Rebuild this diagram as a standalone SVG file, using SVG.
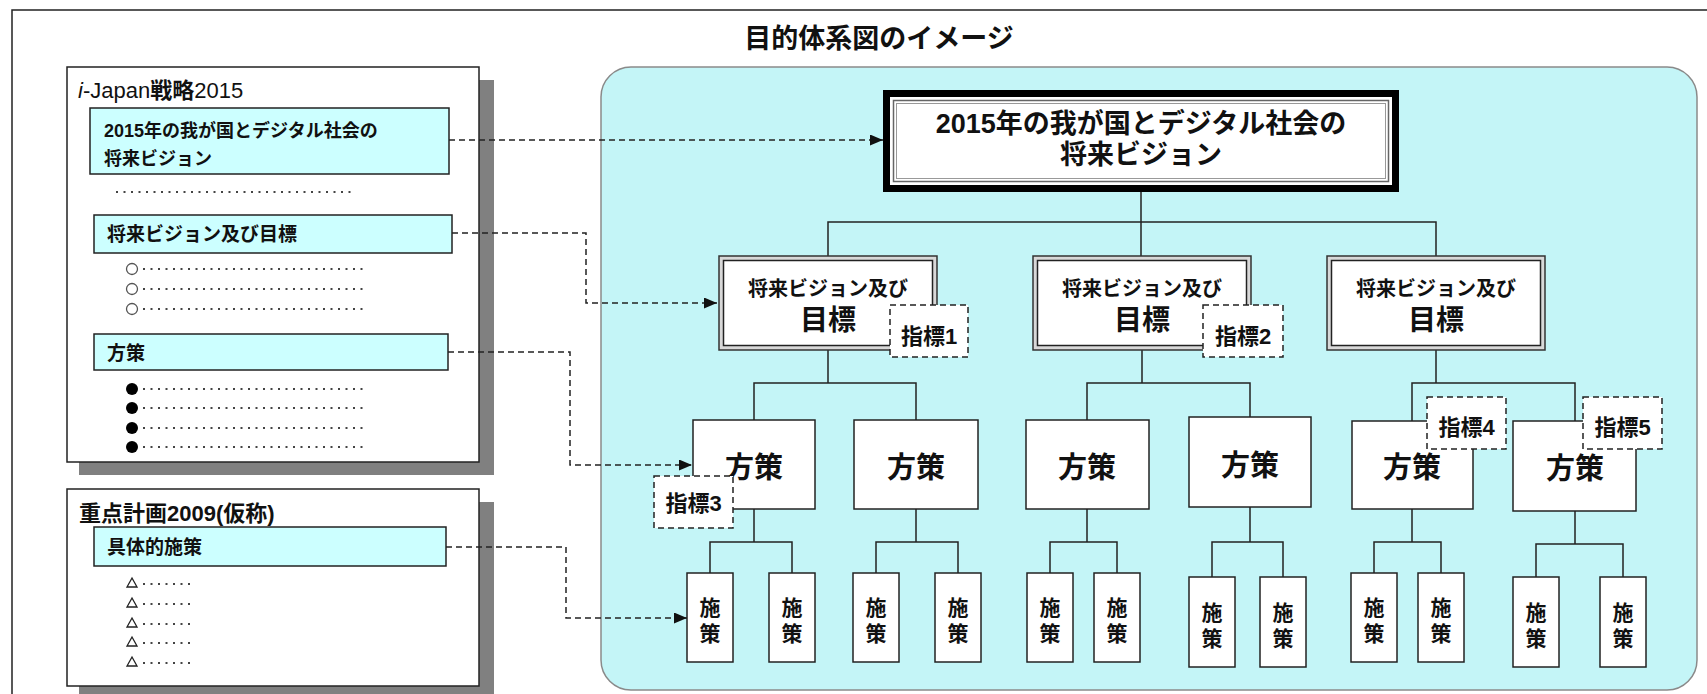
<svg xmlns="http://www.w3.org/2000/svg" width="1707" height="694" viewBox="0 0 1707 694">
<defs>
<marker id="ah" viewBox="0 0 13 11" refX="13" refY="5.5" markerWidth="13" markerHeight="11" markerUnits="userSpaceOnUse" orient="auto"><path d="M0,0 L13,5.5 L0,11 z" fill="#111"/></marker>
</defs>
<style>
text{font-family:"Liberation Sans","Noto Sans CJK JP",sans-serif;font-weight:bold;fill:#111}
.frame{fill:none;stroke:#222;stroke-width:1.5}
.shadow{fill:#808080}
.doc{fill:#fff;stroke:#222;stroke-width:1.5}
.hdr{fill:#ccffff;stroke:#222;stroke-width:1.5}
.dots{stroke:#444;stroke-width:2;stroke-dasharray:2 5.5;fill:none}
.oc{fill:#fff;stroke:#555;stroke-width:1.3}
.fc{fill:#000}
.tri{fill:#fff;stroke:#222;stroke-width:1.3}
.panel{fill:#c4f5f7;stroke:#8a8a8a;stroke-width:1.5}
.box{fill:#fff;stroke:#222;stroke-width:1.5}
.dbl{fill:#d8d8d8;stroke:#333;stroke-width:1.5}
.ind{fill:#fff;stroke:#222;stroke-width:1.5;stroke-dasharray:6 4}
.link{fill:none;stroke:#222;stroke-width:1.5}
.dash{fill:none;stroke:#222;stroke-width:1.5;stroke-dasharray:6 4}
.c{text-anchor:middle}
.l2a{font-size:20px}
.l2b{font-size:28px}
.l3{font-size:29px}
.l4{font-size:21px}
.ix{font-size:22px}
</style>

<path class="frame" d="M12,694 V10 H1707"/>

<g id="ijapan">
<rect class="shadow" x="79" y="80" width="415" height="395"/>
<rect class="doc" x="67" y="67" width="412" height="395"/>
<text x="78" y="98" font-size="22"><tspan font-style="italic" font-weight="normal">i</tspan><tspan font-weight="normal">-Japan</tspan>戦略<tspan font-weight="normal">2015</tspan></text>
<rect class="hdr" x="90" y="108" width="359" height="66"/>
<text x="104" y="137" font-size="18">2015年の我が国とデジタル社会の<tspan x="104" y="165">将来ビジョン</tspan></text>
<line class="dots" x1="116" y1="192" x2="352" y2="192"/>
<rect class="hdr" x="94" y="215" width="358" height="38"/>
<text x="107" y="241" font-size="19">将来ビジョン及び目標</text>
<circle class="oc" cx="132" cy="269" r="5.5"/><line class="dots" x1="143" y1="269" x2="364" y2="269"/>
<circle class="oc" cx="132" cy="289" r="5.5"/><line class="dots" x1="143" y1="289" x2="364" y2="289"/>
<circle class="oc" cx="132" cy="309" r="5.5"/><line class="dots" x1="143" y1="309" x2="364" y2="309"/>
<rect class="hdr" x="94" y="334" width="354" height="36"/>
<text x="107" y="360" font-size="19">方策</text>
<circle class="fc" cx="132" cy="389" r="6"/><line class="dots" x1="143" y1="389" x2="364" y2="389"/>
<circle class="fc" cx="132" cy="408" r="6"/><line class="dots" x1="143" y1="408" x2="364" y2="408"/>
<circle class="fc" cx="132" cy="428" r="6"/><line class="dots" x1="143" y1="428" x2="364" y2="428"/>
<circle class="fc" cx="132" cy="447" r="6"/><line class="dots" x1="143" y1="447" x2="364" y2="447"/>
</g>

<g id="juten">
<rect class="shadow" x="79" y="502" width="415" height="200"/>
<rect class="doc" x="67" y="489" width="412" height="197"/>
<text x="79" y="521" font-size="22">重点計画2009(仮称)</text>
<rect class="hdr" x="94" y="527" width="352" height="39"/>
<text x="107" y="554" font-size="19">具体的施策</text>
<path class="tri" d="M132,578 L137,587 L127,587 z"/><line class="dots" x1="143" y1="584" x2="195" y2="584"/>
<path class="tri" d="M132,598 L137,607 L127,607 z"/><line class="dots" x1="143" y1="604" x2="195" y2="604"/>
<path class="tri" d="M132,618 L137,627 L127,627 z"/><line class="dots" x1="143" y1="624" x2="195" y2="624"/>
<path class="tri" d="M132,637 L137,646 L127,646 z"/><line class="dots" x1="143" y1="643" x2="195" y2="643"/>
<path class="tri" d="M132,657 L137,666 L127,666 z"/><line class="dots" x1="143" y1="663" x2="195" y2="663"/>
</g>

<text x="879" y="48" font-size="27" class="c">目的体系図のイメージ</text>
<rect class="panel" x="601" y="67" width="1096" height="623" rx="30"/>

<g id="connectors">
<path class="link" d="M1141,192 V256 M828,256 V222 H1436 V256"/>
<path class="link" d="M828,350 V383 M754,420 V383 H916 V420"/>
<path class="link" d="M1142,350 V383 M1087,420 V383 H1250 V417"/>
<path class="link" d="M1436,350 V383 M1412,421 V383 H1575 V421"/>
<path class="link" d="M754,509 V542 M710,573 V542 H792 V573"/>
<path class="link" d="M916,509 V542 M876,573 V542 H958 V573"/>
<path class="link" d="M1087,509 V542 M1050,573 V542 H1117 V573"/>
<path class="link" d="M1250,507 V542 M1212,577 V542 H1283 V577"/>
<path class="link" d="M1412,509 V542 M1374,573 V542 H1441 V573"/>
<path class="link" d="M1575,511 V544 M1536,577 V544 H1623 V577"/>
<path class="dash" d="M449,140 H883" marker-end="url(#ah)"/>
<path class="dash" d="M452,233 H586 V303 H717" marker-end="url(#ah)"/>
<path class="dash" d="M448,352 H570 V465 H692" marker-end="url(#ah)"/>
<path class="dash" d="M446,547 H566 V618 H687" marker-end="url(#ah)"/>
</g>

<g id="vision">
<rect x="886.5" y="93.5" width="509" height="95" fill="#fff" stroke="#000" stroke-width="7"/>
<rect x="893.5" y="100.5" width="495" height="81" fill="none" stroke="#666" stroke-width="1.5"/>
<rect x="896.5" y="103.5" width="489" height="75" fill="none" stroke="#999" stroke-width="1"/>
<text x="1141" y="133" font-size="27" class="c">2015年の我が国とデジタル社会の<tspan x="1141" y="164">将来ビジョン</tspan></text>
</g>

<g id="goal1">
<rect class="dbl" x="719" y="256" width="218" height="94"/>
<rect class="box" x="723.5" y="260.5" width="209" height="85"/>
<text x="828" y="296" class="c l2a">将来ビジョン及び<tspan x="828" y="330" class="l2b">目標</tspan></text>
</g>
<g id="goal2">
<rect class="dbl" x="1033" y="256" width="218" height="94"/>
<rect class="box" x="1037.5" y="260.5" width="209" height="85"/>
<text x="1142" y="296" class="c l2a">将来ビジョン及び<tspan x="1142" y="330" class="l2b">目標</tspan></text>
</g>
<g id="goal3">
<rect class="dbl" x="1327" y="256" width="218" height="94"/>
<rect class="box" x="1331.5" y="260.5" width="209" height="85"/>
<text x="1436" y="296" class="c l2a">将来ビジョン及び<tspan x="1436" y="330" class="l2b">目標</tspan></text>
</g>

<g id="policyA"><rect class="box" x="693" y="420" width="122" height="89"/><text x="754" y="478" class="c l3">方策</text></g>
<g id="policyB"><rect class="box" x="854" y="420" width="124" height="89"/><text x="916" y="478" class="c l3">方策</text></g>
<g id="policyC"><rect class="box" x="1026" y="420" width="123" height="89"/><text x="1087" y="478" class="c l3">方策</text></g>
<g id="policyD"><rect class="box" x="1189" y="417" width="122" height="90"/><text x="1250" y="476" class="c l3">方策</text></g>
<g id="policyE"><rect class="box" x="1352" y="421" width="121" height="88"/><text x="1412" y="478" class="c l3">方策</text></g>
<g id="policyF"><rect class="box" x="1513" y="421" width="123" height="90"/><text x="1575" y="479" class="c l3">方策</text></g>

<g id="m1"><rect class="box" x="687" y="573" width="46" height="89"/><text x="710" y="615" class="c l4">施<tspan x="710" y="641">策</tspan></text></g>
<g id="m2"><rect class="box" x="769" y="573" width="46" height="89"/><text x="792" y="615" class="c l4">施<tspan x="792" y="641">策</tspan></text></g>
<g id="m3"><rect class="box" x="853" y="573" width="46" height="89"/><text x="876" y="615" class="c l4">施<tspan x="876" y="641">策</tspan></text></g>
<g id="m4"><rect class="box" x="935" y="573" width="46" height="89"/><text x="958" y="615" class="c l4">施<tspan x="958" y="641">策</tspan></text></g>
<g id="m5"><rect class="box" x="1027" y="573" width="46" height="89"/><text x="1050" y="615" class="c l4">施<tspan x="1050" y="641">策</tspan></text></g>
<g id="m6"><rect class="box" x="1094" y="573" width="46" height="89"/><text x="1117" y="615" class="c l4">施<tspan x="1117" y="641">策</tspan></text></g>
<g id="m7"><rect class="box" x="1189" y="577" width="46" height="90"/><text x="1212" y="620" class="c l4">施<tspan x="1212" y="646">策</tspan></text></g>
<g id="m8"><rect class="box" x="1260" y="577" width="46" height="90"/><text x="1283" y="620" class="c l4">施<tspan x="1283" y="646">策</tspan></text></g>
<g id="m9"><rect class="box" x="1351" y="573" width="46" height="89"/><text x="1374" y="615" class="c l4">施<tspan x="1374" y="641">策</tspan></text></g>
<g id="m10"><rect class="box" x="1418" y="573" width="46" height="89"/><text x="1441" y="615" class="c l4">施<tspan x="1441" y="641">策</tspan></text></g>
<g id="m11"><rect class="box" x="1513" y="577" width="46" height="90"/><text x="1536" y="620" class="c l4">施<tspan x="1536" y="646">策</tspan></text></g>
<g id="m12"><rect class="box" x="1600" y="577" width="46" height="90"/><text x="1623" y="620" class="c l4">施<tspan x="1623" y="646">策</tspan></text></g>

<g id="ind1"><rect class="ind" x="890" y="305" width="78" height="52"/><text x="929" y="344" class="c ix">指標1</text></g>
<g id="ind2"><rect class="ind" x="1203" y="305" width="80" height="52"/><text x="1243" y="344" class="c ix">指標2</text></g>
<g id="ind3"><rect class="ind" x="654" y="476" width="79" height="52"/><text x="693.5" y="511" class="c ix">指標3</text></g>
<g id="ind4"><rect class="ind" x="1427" y="397" width="79" height="52"/><text x="1466.5" y="435" class="c ix">指標4</text></g>
<g id="ind5"><rect class="ind" x="1583" y="397" width="79" height="52"/><text x="1622.5" y="435" class="c ix">指標5</text></g>
</svg>
